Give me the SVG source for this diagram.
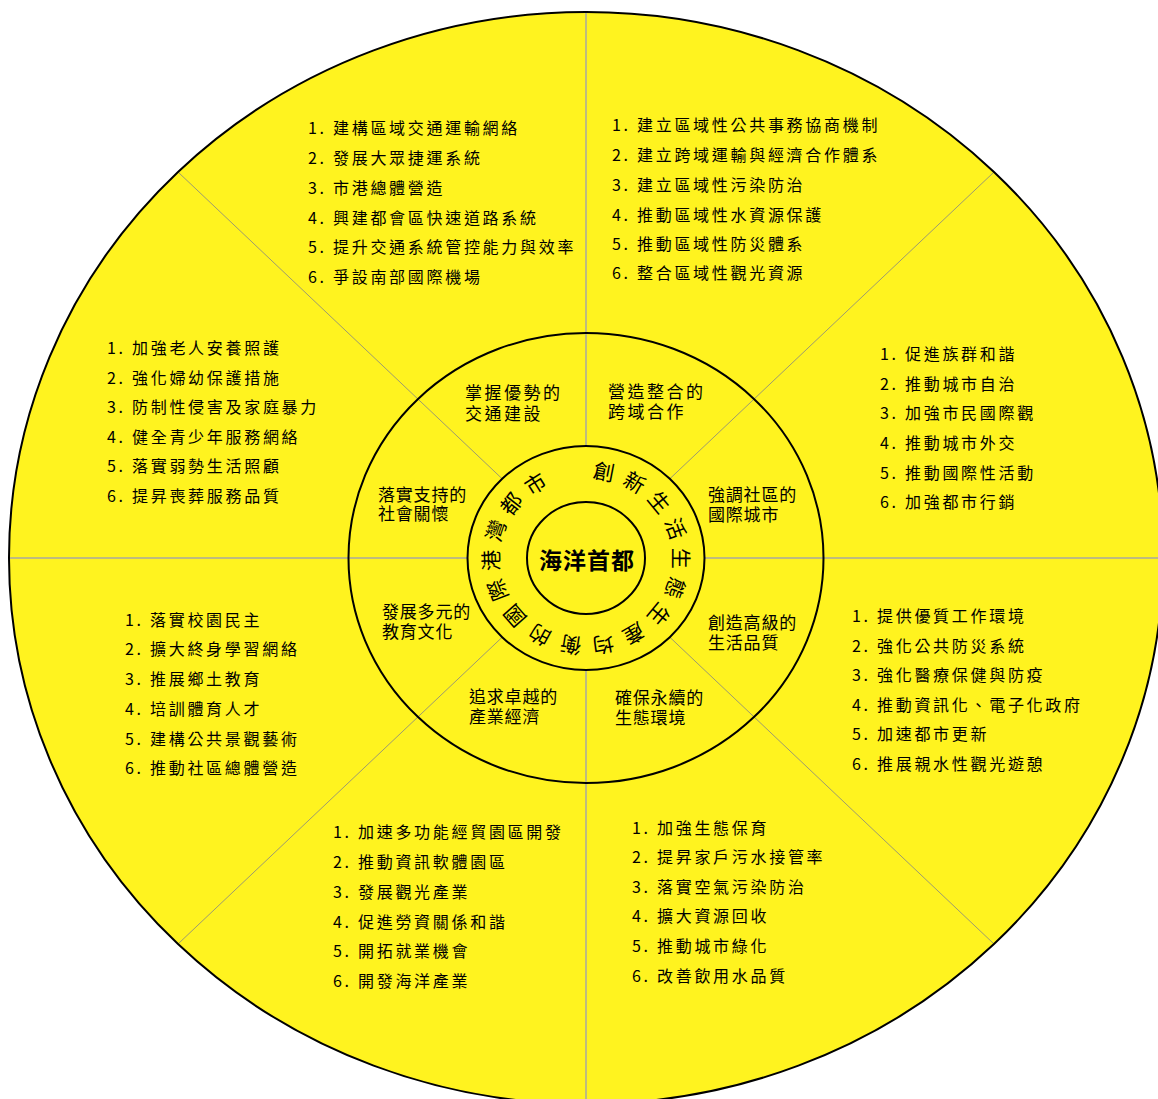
<svg xmlns="http://www.w3.org/2000/svg" width="1158" height="1099" viewBox="0 0 1158 1099">
<style>
  .ring { fill: none; stroke: #000; stroke-width: 2; }
  .axis { stroke: #a8a8a0; stroke-width: 1.5; }
  .diag { stroke: #9c9a70; stroke-width: 1; }
  .list { font-family: "Noto Sans CJK TC", "Noto Sans CJK SC", sans-serif; font-size: 16px; letter-spacing: 2.7px; fill: #000; }
  .label { font-family: "Noto Sans CJK TC", "Noto Sans CJK SC", sans-serif; font-size: 17px; letter-spacing: 0.8px; fill: #000; }
  .wide { letter-spacing: 2.5px; }
  .arc { font-family: "Noto Sans CJK TC", "Noto Sans CJK SC", sans-serif; font-size: 21px; fill: #000; text-anchor: middle; dominant-baseline: central; }
  .core { font-family: "Noto Sans CJK TC", "Noto Sans CJK SC", sans-serif; font-size: 23px; font-weight: bold; letter-spacing: 1px; fill: #000; text-anchor: middle; }
</style>
<rect width="1158" height="1099" fill="#fff"/>
<ellipse id="outer" cx="586" cy="558" rx="577" ry="546" fill="#fff31f"/>
<g id="connectors">
  <line class="axis" x1="586" y1="12" x2="586" y2="446"/>
  <line class="axis" x1="586" y1="670" x2="586" y2="1104"/>
  <line class="axis" x1="9" y1="558" x2="467.5" y2="558"/>
  <line class="axis" x1="704.5" y1="558" x2="1163" y2="558"/>
  <line class="diag" x1="502.2" y1="478.8" x2="178" y2="172"/>
  <line class="diag" x1="669.8" y1="478.8" x2="994" y2="172"/>
  <line class="diag" x1="502.2" y1="637.2" x2="178" y2="944"/>
  <line class="diag" x1="669.8" y1="637.2" x2="994" y2="944"/>
</g>
<ellipse class="ring" cx="586" cy="558" rx="577" ry="546"/>
<ellipse id="middle-ring" class="ring" cx="586" cy="558" rx="237.5" ry="225"/>
<ellipse id="text-ring" class="ring" cx="586" cy="558" rx="118.5" ry="112"/>
<ellipse id="core-ring" class="ring" cx="586" cy="558" rx="59" ry="56"/>

<g id="core">
  <text class="core" x="587" y="569">海洋首都</text>
</g>

<g id="ring-text">
  <text class="arc" transform="translate(604.3,470.6) rotate(11)">創</text>
  <text class="arc" transform="translate(635.2,481.5) rotate(30.8)">新</text>
  <text class="arc" transform="translate(660.2,501.5) rotate(50.6)">生</text>
  <text class="arc" transform="translate(676.4,528.1) rotate(70.4)">活</text>
  <text class="arc" transform="translate(682,558.3) rotate(90.2)">生</text>
  <text class="arc" transform="translate(676.2,588.4) rotate(110)">態</text>
  <text class="arc" transform="translate(659.8,615) rotate(129.8)">生</text>
  <text class="arc" transform="translate(634.6,634.8) rotate(149.6)">產</text>
  <text class="arc" transform="translate(603.7,645.5) rotate(169.4)">均</text>
  <text class="arc" transform="translate(570.6,645.9) rotate(189.2)">衡</text>
  <text class="arc" transform="translate(539.5,635.8) rotate(209)">的</text>
  <text class="arc" transform="translate(513.8,616.6) rotate(228.8)">國</text>
  <text class="arc" transform="translate(496.6,590.5) rotate(248.6)">際</text>
  <text class="arc" transform="translate(490,560.5) rotate(268.4)">港</text>
  <text class="arc" transform="translate(494.8,530.2) rotate(288.2)">灣</text>
  <text class="arc" transform="translate(510.4,503.2) rotate(308)">都</text>
  <text class="arc" transform="translate(534.8,482.7) rotate(327.8)">市</text>
</g>

<g id="label-transport">
  <text class="label wide" x="465" y="399">掌握優勢的</text>
  <text class="label wide" x="465" y="420">交通建設</text>
</g>
<g id="label-crossregion">
  <text class="label wide" x="608" y="398">營造整合的</text>
  <text class="label wide" x="608" y="418">跨域合作</text>
</g>
<g id="label-international">
  <text class="label" x="708" y="501">強調社區的</text>
  <text class="label" x="708" y="521">國際城市</text>
</g>
<g id="label-social">
  <text class="label" x="378" y="501">落實支持的</text>
  <text class="label" x="378" y="520">社會關懷</text>
</g>
<g id="label-education">
  <text class="label" x="382" y="618">發展多元的</text>
  <text class="label" x="382" y="638">教育文化</text>
</g>
<g id="label-life">
  <text class="label" x="708" y="629">創造高級的</text>
  <text class="label" x="708" y="649">生活品質</text>
</g>
<g id="label-industry">
  <text class="label" x="469" y="703">追求卓越的</text>
  <text class="label" x="469" y="723">產業經濟</text>
</g>
<g id="label-ecology">
  <text class="label" x="615" y="704">確保永續的</text>
  <text class="label" x="615" y="724">生態環境</text>
</g>

<g id="list-transport">
  <text class="list" x="308" y="134">1. 建構區域交通運輸網絡</text>
  <text class="list" x="308" y="164">2. 發展大眾捷運系統</text>
  <text class="list" x="308" y="194">3. 市港總體營造</text>
  <text class="list" x="308" y="224">4. 興建都會區快速道路系統</text>
  <text class="list" x="308" y="253">5. 提升交通系統管控能力與效率</text>
  <text class="list" x="308" y="283">6. 爭設南部國際機場</text>
</g>
<g id="list-crossregion">
  <text class="list" x="612" y="131">1. 建立區域性公共事務協商機制</text>
  <text class="list" x="612" y="161">2. 建立跨域運輸與經濟合作體系</text>
  <text class="list" x="612" y="191">3. 建立區域性污染防治</text>
  <text class="list" x="612" y="221">4. 推動區域性水資源保護</text>
  <text class="list" x="612" y="250">5. 推動區域性防災體系</text>
  <text class="list" x="612" y="279">6. 整合區域性觀光資源</text>
</g>
<g id="list-international">
  <text class="list" x="880" y="360">1. 促進族群和諧</text>
  <text class="list" x="880" y="390">2. 推動城市自治</text>
  <text class="list" x="880" y="419">3. 加強市民國際觀</text>
  <text class="list" x="880" y="449">4. 推動城市外交</text>
  <text class="list" x="880" y="479">5. 推動國際性活動</text>
  <text class="list" x="880" y="508">6. 加強都市行銷</text>
</g>
<g id="list-social">
  <text class="list" x="107" y="354">1. 加強老人安養照護</text>
  <text class="list" x="107" y="384">2. 強化婦幼保護措施</text>
  <text class="list" x="107" y="413">3. 防制性侵害及家庭暴力</text>
  <text class="list" x="107" y="443">4. 健全青少年服務網絡</text>
  <text class="list" x="107" y="472">5. 落實弱勢生活照顧</text>
  <text class="list" x="107" y="502">6. 提昇喪葬服務品質</text>
</g>
<g id="list-education">
  <text class="list" x="125" y="626">1. 落實校園民主</text>
  <text class="list" x="125" y="655">2. 擴大終身學習網絡</text>
  <text class="list" x="125" y="685">3. 推展鄉土教育</text>
  <text class="list" x="125" y="715">4. 培訓體育人才</text>
  <text class="list" x="125" y="745">5. 建構公共景觀藝術</text>
  <text class="list" x="125" y="774">6. 推動社區總體營造</text>
</g>
<g id="list-life">
  <text class="list" x="852" y="622">1. 提供優質工作環境</text>
  <text class="list" x="852" y="652">2. 強化公共防災系統</text>
  <text class="list" x="852" y="681">3. 強化醫療保健與防疫</text>
  <text class="list" x="852" y="711">4. 推動資訊化、電子化政府</text>
  <text class="list" x="852" y="740">5. 加速都市更新</text>
  <text class="list" x="852" y="770">6. 推展親水性觀光遊憩</text>
</g>
<g id="list-industry">
  <text class="list" x="333" y="838">1. 加速多功能經貿園區開發</text>
  <text class="list" x="333" y="868">2. 推動資訊軟體園區</text>
  <text class="list" x="333" y="898">3. 發展觀光產業</text>
  <text class="list" x="333" y="928">4. 促進勞資關係和諧</text>
  <text class="list" x="333" y="957">5. 開拓就業機會</text>
  <text class="list" x="333" y="987">6. 開發海洋產業</text>
</g>
<g id="list-ecology">
  <text class="list" x="632" y="834">1. 加強生態保育</text>
  <text class="list" x="632" y="863">2. 提昇家戶污水接管率</text>
  <text class="list" x="632" y="893">3. 落實空氣污染防治</text>
  <text class="list" x="632" y="922">4. 擴大資源回收</text>
  <text class="list" x="632" y="952">5. 推動城市綠化</text>
  <text class="list" x="632" y="982">6. 改善飲用水品質</text>
</g>
</svg>
